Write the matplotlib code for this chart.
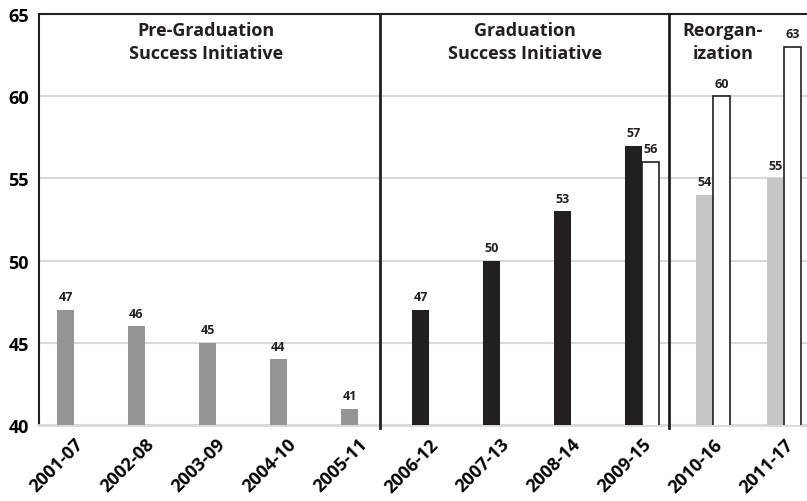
import matplotlib
matplotlib.use("Agg")
import matplotlib.pyplot as plt
import numpy as np

# data
periods = ["2001-07", "2002-08", "2003-09", "2004-10", "2005-11",
           "2006-12", "2007-13", "2008-14", "2009-15", "2010-16", "2011-17"]
rate_main = [47, 46, 45, 44, 41, 47, 50, 53, 57, 54, 55]
rate_alt = [np.nan] * 8 + [56, 60, 63]
main_colors = ["#959595"] * 5 + ["#231f20"] * 4 + ["#c6c6c6"] * 2
sections = ["Pre-Graduation\nSuccess Initiative", "Graduation\nSuccess Initiative", "Reorgan-\nization"]
section_x = [1.86, 6.35, 9.14]
dividers = [4.31, 8.38]

plt.rcParams["font.family"] = ["Open Sans", "DejaVu Sans"]
plt.rcParams["font.weight"] = "bold"

fig = plt.figure(figsize=(8.07, 5.02), dpi=100)
W, H = 807.0, 502.0
ax = fig.add_axes([38.5 / W, 76 / H, 781 / W, 411 / H])

x = np.arange(len(periods))
w = 0.24
ax.bar(x - w / 2, rate_main, w, color=main_colors, zorder=3)
ax.bar(x + w / 2, rate_alt, w, color="white", edgecolor="#231f20", linewidth=1.2, zorder=3)

for xi, v in zip(x, rate_main):
    ax.text(xi - w / 2, v + 0.4, str(v), ha="center", va="bottom", fontsize=9, fontweight="bold", color="#231f20")
for xi, v in zip(x, rate_alt):
    if not np.isnan(v):
        ax.text(xi + w / 2, v + 0.4, str(int(v)), ha="center", va="bottom", fontsize=9, fontweight="bold", color="#231f20")

for d in dividers:
    ax.plot([d, d], [39.8, 65], color="#231f20", linewidth=2, zorder=4, clip_on=False)

for sx, s in zip(section_x, sections):
    ax.text(sx, 64.55, s, ha="center", va="top", fontsize=13, fontweight="bold",
            color="#231f20", linespacing=1.3)

ax.set_xlim(-0.5, len(periods) - 0.5)
ax.set_ylim(40, 65)
ax.set_yticks([40, 45, 50, 55, 60, 65])
ax.set_xticks(x)
ax.set_xticklabels(periods, rotation=45, ha="right", rotation_mode="anchor", fontsize=13, fontweight="bold")
ax.tick_params(axis="x", length=0, pad=7)
ax.tick_params(axis="y", length=0, pad=7, labelsize=13)
ax.yaxis.grid(True, color="#d9d9d9", linewidth=1.5, zorder=0)
ax.set_axisbelow(True)

ax.spines["right"].set_visible(False)
ax.spines["left"].set_color("#231f20")
ax.spines["left"].set_linewidth(1.5)
ax.spines["top"].set_color("#231f20")
ax.spines["top"].set_linewidth(1.5)
ax.spines["bottom"].set_color("#d9d9d9")
ax.spines["bottom"].set_linewidth(2)

fig.savefig("out.png", dpi=100)
